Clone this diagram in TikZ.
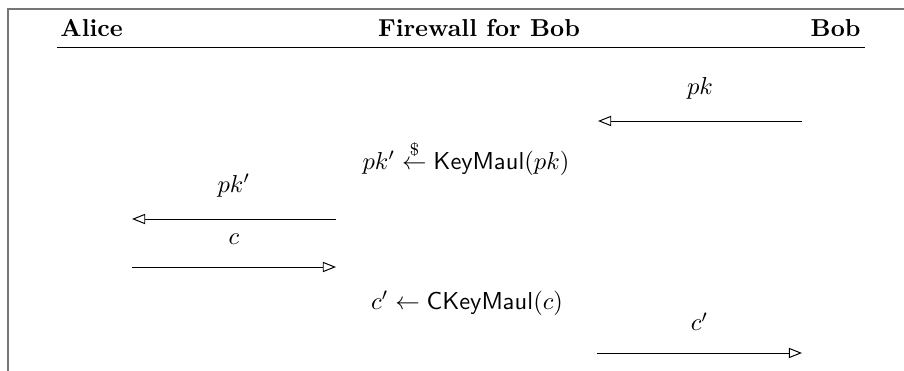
\documentclass[tikz,border=0pt]{standalone}
\usepackage{amsmath}
\usetikzlibrary{arrows.meta}
\definecolor{framegray}{RGB}{118,118,118}
\begin{document}
\begin{tikzpicture}[x=0.408pt,y=-0.408pt,
  party/.style={font=\bfseries, inner sep=0pt, anchor=base},
  msg/.style={line width=0.4pt, -{Triangle[open,length=5.4pt,width=4.2pt]}},
  msglabel/.style={midway, above=8.8pt, inner sep=0pt},
  step text/.style={inner sep=0pt}]
  \useasboundingbox (0,0) rectangle (904,371);

  % outer frame (top and left edges)
  \draw[framegray, line width=0.8pt] (904,9) -- (8,9) -- (8,371);

  % participants
  \node[party, anchor=base west] (alice) at (60,37) {Alice};
  \node[party] (fw) at (479,37) {Firewall for Bob};
  \node[party, anchor=base east] (bob) at (861,37) {Bob};
  \coordinate (hl) at (57,47);
  \coordinate (hr) at (865,47);
  \draw (hl) -- (hr);

  % message endpoints
  \coordinate (b1) at (802,121); \coordinate (f1) at (598,121);
  \coordinate (f2) at (336,219); \coordinate (a2) at (132,219);
  \coordinate (a3) at (132,267); \coordinate (f3) at (336,267);
  \coordinate (f4) at (597,353); \coordinate (b4) at (802,353);

  % Bob sends his key to the firewall
  \draw[msg] (b1) -- node[msglabel] (lpk) {$pk$} (f1);
  \node[step text] (keymaul) at (466,158) {$pk' \stackrel{\$}{\leftarrow} \mathsf{KeyMaul}(pk)$};
  % firewall forwards the mauled key to Alice
  \draw[msg] (f2) -- node[msglabel] (lpkp) {$pk'$} (a2);
  % Alice answers with a ciphertext
  \draw[msg] (a3) -- node[msglabel] (lc) {$c$} (f3);
  \node[step text] (ckeymaul) at (467,303) {$c' \leftarrow \mathsf{CKeyMaul}(c)$};
  % firewall delivers the mauled ciphertext to Bob
  \draw[msg] (f4) -- node[msglabel] (lcp) {$c'$} (b4);
\end{tikzpicture}
\end{document}
